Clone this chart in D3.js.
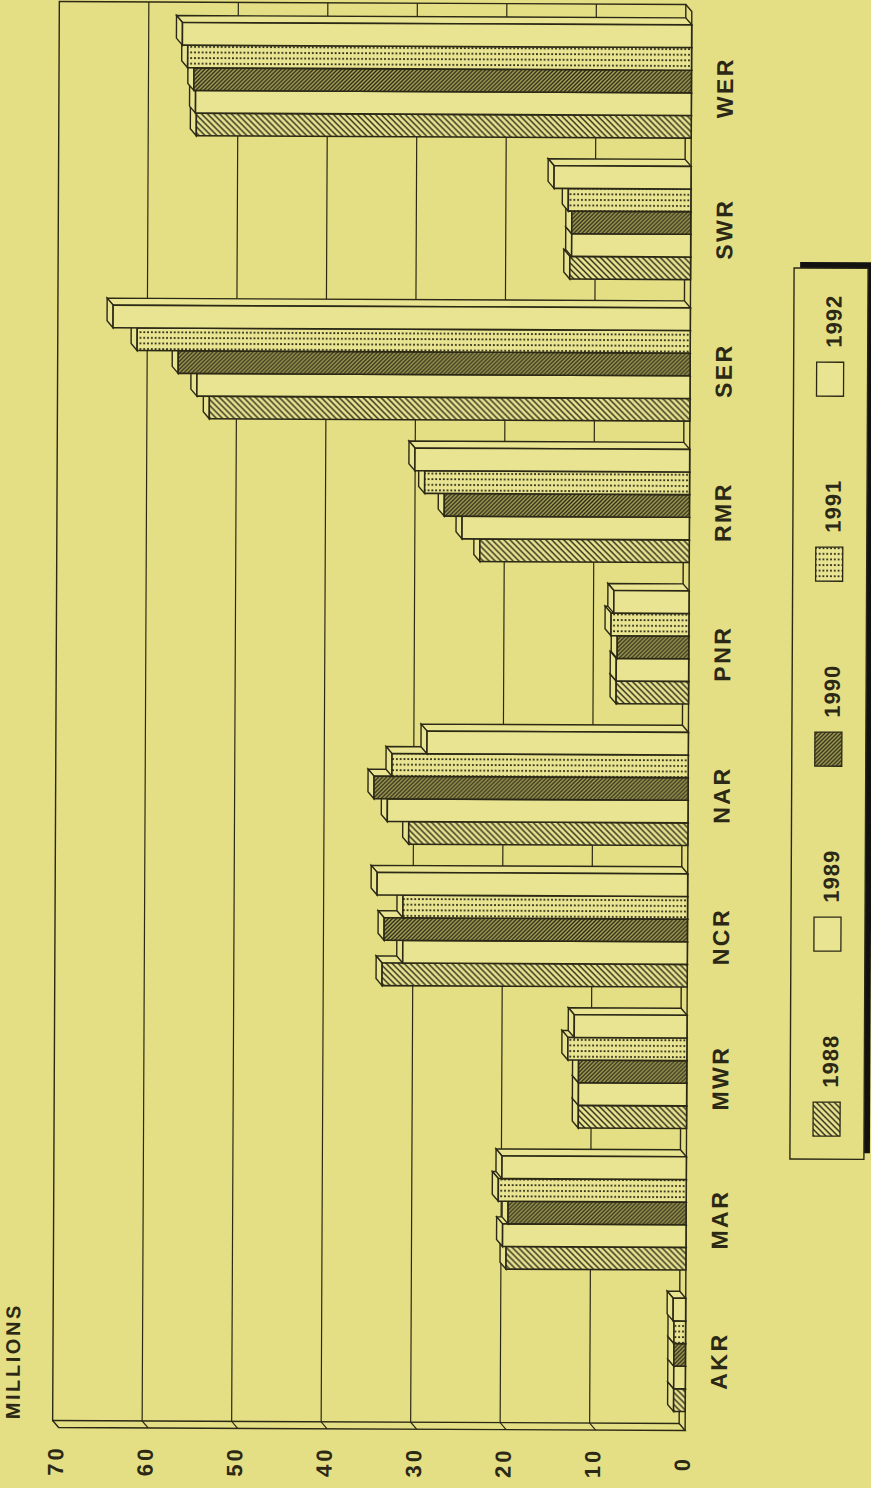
<!DOCTYPE html>
<html>
<head>
<meta charset="utf-8">
<script src="https://cdn.jsdelivr.net/npm/d3@7"></script>
<style>
  body { margin: 0; background: #e4df84; }
  svg { display: block; }
  text { font-family: 'Liberation Sans', Arial, sans-serif; font-weight: bold; fill: #2b2816; }
</style>
</head>
<body>
<script>
// regions, bottom to top in the picture
const regions = ['AKR', 'MAR', 'MWR', 'NCR', 'NAR', 'PNR', 'RMR', 'SER', 'SWR', 'WER']
const years = ['1988', '1989', '1990', '1991', '1992']
const v1988 = [1.3, 20.1, 12.1, 34.1, 31.2, 8.1, 23.4, 53.7, 13.5, 55.3]
const v1989 = [1.3, 20.5, 12.1, 31.8, 33.6, 8.1, 25.4, 55.1, 13.3, 55.4]
const v1990 = [1.3, 19.9, 12.1, 33.9, 35.1, 8.0, 27.4, 57.2, 13.3, 55.6]
const v1991 = [1.3, 21.0, 13.3, 31.8, 33.1, 8.7, 29.6, 61.8, 13.7, 56.3]
const v1992 = [1.4, 20.6, 12.6, 34.7, 29.2, 8.4, 30.7, 64.5, 15.3, 56.9]
const tickValues = [0, 10, 20, 30, 40, 50, 60, 70]
const axisTitle = 'MILLIONS'

const series = [v1988, v1989, v1990, v1991, v1992]

let width = 871
let height = 1488
let ink = '#2b2816'
let light = '#e8e491'
let depth = { x: 6, y: 7 } // back -> front offset

let svg = d3.select('body').append('svg')
  .attr('width', width)
  .attr('height', height)

// patterns
let defs = svg.append('defs')
let p88 = defs.append('pattern').attr('id', 'p1988')
  .attr('patternUnits', 'userSpaceOnUse').attr('width', 6).attr('height', 6)
p88.append('rect').attr('width', 6).attr('height', 6).attr('fill', light)
p88.append('path').attr('d', 'M-1,-1L7,7M-1,5L1,7M5,-1L7,1')
  .attr('stroke', ink).attr('stroke-width', 1.4)

let p90 = defs.append('pattern').attr('id', 'p1990')
  .attr('patternUnits', 'userSpaceOnUse').attr('width', 4).attr('height', 4)
p90.append('rect').attr('width', 4).attr('height', 4).attr('fill', '#aca75a')
p90.append('path').attr('d', 'M-1,5L5,-1M-1,1L1,-1M3,5L5,3')
  .attr('stroke', ink).attr('stroke-width', 1.4)

let p91 = defs.append('pattern').attr('id', 'p1991')
  .attr('patternUnits', 'userSpaceOnUse').attr('width', 3.8).attr('height', 5.6)
p91.append('rect').attr('width', 3.8).attr('height', 5.6).attr('fill', light)
p91.append('rect').attr('x', 1).attr('y', 2).attr('width', 1.8).attr('height', 1.8).attr('fill', ink)

let fills = ['url(#p1988)', light, 'url(#p1990)', 'url(#p1991)', light]

// scan is slightly tilted
let g = svg.append('g').attr('transform', 'rotate(0.27, 370, 712)')

let x = d3.scaleLinear().domain([0, 70]).range([682.5, 56])
let y = d3.scaleBand().domain(regions.slice().reverse())
  .range([23.4, 1410]).paddingInner(0.2).paddingOuter(0)
let yi = d3.scaleBand().domain(years.slice().reverse()).range([0, y.bandwidth()])

let wallTop = 3
let wallBottom = 1422

// back wall
g.append('rect')
  .attr('x', x(70)).attr('y', wallTop)
  .attr('width', x(0) - x(70)).attr('height', wallBottom - wallTop)
  .attr('fill', 'none').attr('stroke', ink).attr('stroke-width', 1.4)

// side wall (bottom strip) and floor (right strip)
g.append('path')
  .attr('d', d3.line()([[x(70), wallBottom], [x(70) + depth.x, wallBottom + depth.y],
    [x(0) + depth.x, wallBottom + depth.y], [x(0), wallBottom]]))
  .attr('fill', 'none').attr('stroke', ink).attr('stroke-width', 1.4)
g.append('path')
  .attr('d', d3.line()([[x(0), wallTop], [x(0) + depth.x, wallTop + depth.y],
    [x(0) + depth.x, wallBottom + depth.y]]))
  .attr('fill', 'none').attr('stroke', ink).attr('stroke-width', 1.4)

// gridlines
g.selectAll('.grid')
  .data(tickValues.filter(d => d > 0 && d < 70))
  .enter().append('path')
  .attr('class', 'grid')
  .attr('d', d => d3.line()([[x(d), wallTop], [x(d), wallBottom], [x(d) + depth.x, wallBottom + depth.y]]))
  .attr('fill', 'none').attr('stroke', ink).attr('stroke-width', 1.2)

// tick labels
g.selectAll('.tick')
  .data(tickValues)
  .enter().append('text')
  .attr('class', 'tick')
  .attr('transform', d => `translate(${x(d) + 3},1462) rotate(-90)`)
  .attr('text-anchor', 'middle')
  .attr('dy', '0.35em')
  .style('font-size', '22px')
  .style('letter-spacing', '3px')
  .text(d => d)

g.append('text')
  .attr('transform', 'translate(16,1421) rotate(-90)')
  .attr('dy', '0.35em')
  .style('font-size', '20px')
  .style('letter-spacing', '2.6px')
  .text(axisTitle)

// bars
let groups = g.selectAll('.region')
  .data(regions)
  .enter().append('g')
  .attr('class', 'region')

groups.each(function (r, ri) {
  let grp = d3.select(this)
  series.forEach((vals, si) => {
    let v = vals[ri]
    let y0 = y(r) + yi(years[si])
    let y1 = y0 + yi.bandwidth()
    let xf0 = x(0) + depth.x
    let xfv = x(v) + depth.x
    grp.append('path')
      .attr('d', d3.line()([[xf0, y0], [xfv, y0], [xfv - depth.x, y0 - depth.y], [xf0 - depth.x, y0 - depth.y]]) + 'Z')
      .attr('fill', light).attr('stroke', ink).attr('stroke-width', 1.4)
    grp.append('path')
      .attr('d', d3.line()([[xfv, y0], [xfv - depth.x, y0 - depth.y], [xfv - depth.x, y1 - depth.y], [xfv, y1]]) + 'Z')
      .attr('fill', light).attr('stroke', ink).attr('stroke-width', 1.4)
    grp.append('rect')
      .attr('x', xfv).attr('y', y0)
      .attr('width', xf0 - xfv).attr('height', y1 - y0)
      .attr('fill', fills[si]).attr('stroke', ink).attr('stroke-width', 1.6)
  })
})

// category labels
g.selectAll('.cat')
  .data(regions)
  .enter().append('text')
  .attr('class', 'cat')
  .attr('transform', d => `translate(722,${y(d) + y.bandwidth() / 2 + 6}) rotate(-90)`)
  .attr('text-anchor', 'middle')
  .attr('dy', '0.35em')
  .style('font-size', '23px')
  .style('letter-spacing', '2.5px')
  .text(d => d)

// legend
let lg = g.append('g')
lg.append('rect')
  .attr('x', 798).attr('y', 260).attr('width', 74).attr('height', 891)
  .attr('fill', '#111')
lg.append('rect')
  .attr('x', 792).attr('y', 266).attr('width', 74).attr('height', 891)
  .attr('fill', '#e4df84').attr('stroke', ink).attr('stroke-width', 1.4)

let ly = d3.scalePoint().domain(years).range([1117, 377])
lg.selectAll('.sw')
  .data(years)
  .enter().append('rect')
  .attr('class', 'sw')
  .attr('x', 815).attr('y', d => ly(d) - 17)
  .attr('width', 27).attr('height', 34)
  .attr('fill', (d, i) => fills[i]).attr('stroke', ink).attr('stroke-width', 1.3)
lg.selectAll('.lt')
  .data(years)
  .enter().append('text')
  .attr('class', 'lt')
  .attr('transform', d => `translate(832,${ly(d) - 58}) rotate(-90)`)
  .attr('text-anchor', 'middle')
  .attr('dy', '0.35em')
  .style('font-size', '22px')
  .style('letter-spacing', '1px')
  .text(d => d)
</script>
</body>
</html>
